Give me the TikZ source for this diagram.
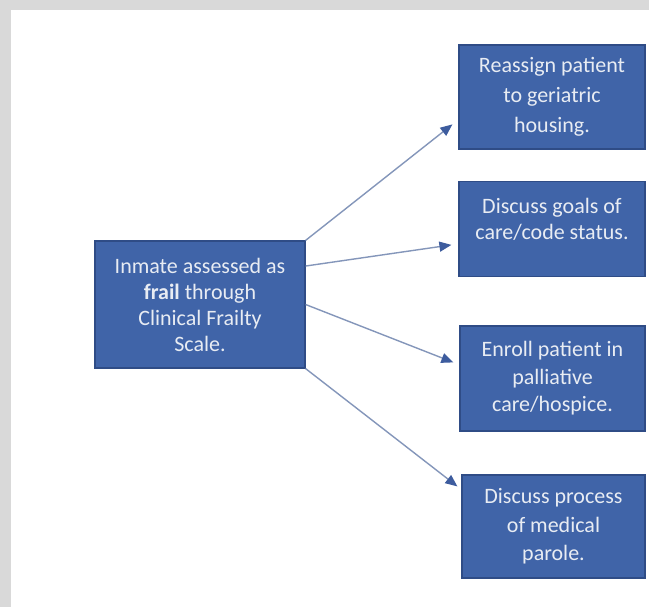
\documentclass[tikz,border=0pt]{standalone}
\usepackage{fontspec}
\setmainfont{Carlito}
\usetikzlibrary{calc,arrows.meta}
\definecolor{boxfill}{HTML}{4064A8}
\definecolor{boxline}{HTML}{2F4C86}
\definecolor{txt}{HTML}{E8ECF3}
\definecolor{arrline}{HTML}{8496BA}
\definecolor{arrhead}{HTML}{3D5C9E}
\definecolor{frame}{HTML}{D9D9D9}
\tikzset{
  bluebox/.style={draw=boxline, line width=1.2pt, fill=boxfill, text=txt,
    inner sep=0pt, align=center, font=\fontsize{22}{27.5}\selectfont},
  conn/.style={draw=arrline, line width=1.4pt,
    -{Triangle[length=12pt,width=10pt,fill=arrhead,color=arrhead]}}
}
\begin{document}
\begin{tikzpicture}[x=1pt,y=-1pt]
\fill[frame] (0,0) rectangle (649,607);
\fill[white] (11,10) rectangle (649,607);
\useasboundingbox (0,0) rectangle (649,607);

\node[bluebox, minimum width=210pt, minimum height=127pt, font=\fontsize{22}{26}\selectfont] (main) at (200,304.5)
  {Inmate assessed as\\\textbf{frail} through\\Clinical Frailty\\Scale.};
\node[bluebox, minimum width=186pt, minimum height=104pt, font=\fontsize{22}{30}\selectfont] (b1) at (552,97)
  {Reassign patient\\to geriatric\\housing.};
\node[bluebox, minimum width=186pt, minimum height=95pt, font=\fontsize{22}{26}\selectfont] (b2) at (552,229)
  {Discuss goals of\\care/code status.\\[-5pt]};
\node[bluebox, minimum width=185pt, minimum height=105pt] (b3) at (552.5,378.5)
  {Enroll patient in\\palliative\\care/hospice.};
\node[bluebox, minimum width=183pt, minimum height=103pt, font=\fontsize{22}{28.5}\selectfont] (b4) at (553.5,526.5)
  {Discuss process\\of medical\\parole.};

\coordinate (s2) at ($(main.north east)!0.2!(main.south east)$);
\coordinate (t1) at ($(b1.north west)+(-6,80)$);
\coordinate (t2) at ($(b2.north west)+(-7,64)$);
\coordinate (t3) at ($(b3.north west)+(-6,37)$);
\coordinate (t4) at ($(b4.north west)+(-4,12)$);

\draw[conn] (main.north east) -- (t1);
\draw[conn] (s2) -- (t2);
\draw[conn] (main.east) -- (t3);
\draw[conn] (main.south east) -- (t4);
\end{tikzpicture}
\end{document}
